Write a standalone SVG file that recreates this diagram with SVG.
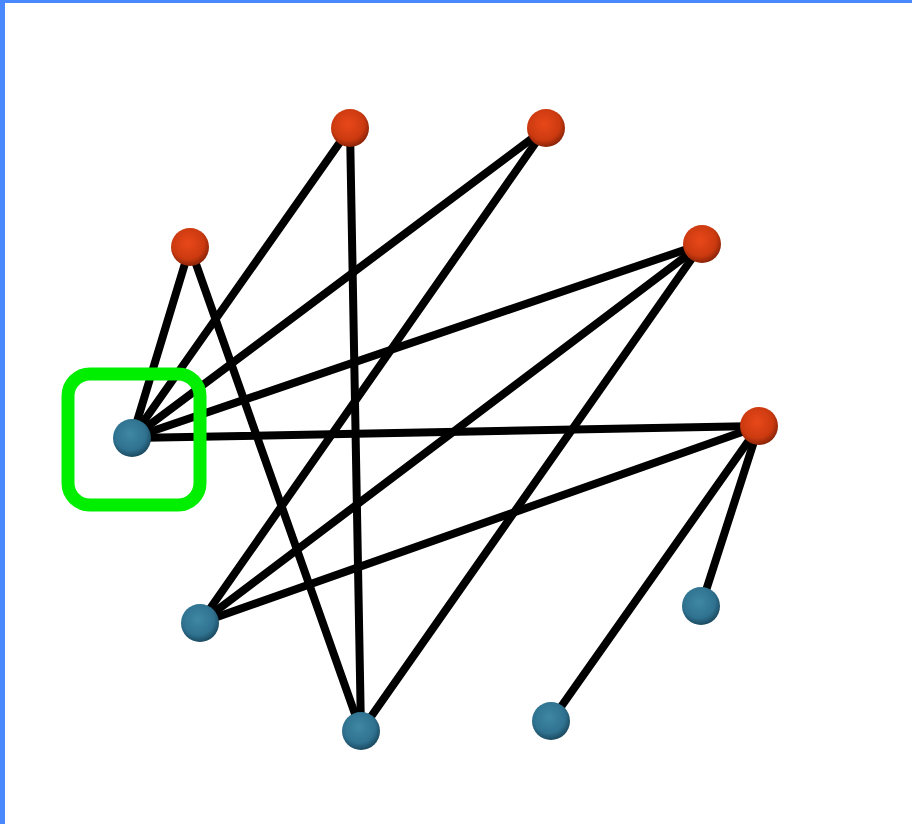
<svg xmlns="http://www.w3.org/2000/svg" width="912" height="824" viewBox="0 0 912 824">
<defs>
<radialGradient id="gr" cx="0.45" cy="0.4" r="0.6">
<stop offset="0" stop-color="#e8481a"/>
<stop offset="0.7" stop-color="#cc3a10"/>
<stop offset="1" stop-color="#8a2408"/>
</radialGradient>
<radialGradient id="gb" cx="0.45" cy="0.4" r="0.6">
<stop offset="0" stop-color="#3f88a4"/>
<stop offset="0.7" stop-color="#2f7290"/>
<stop offset="1" stop-color="#1b4a60"/>
</radialGradient>
<style>
.e{stroke:#000;stroke-width:8;stroke-linecap:round;fill:none}
.r{fill:url(#gr)}
.b{fill:url(#gb)}
</style>
</defs>
<rect x="0" y="0" width="912" height="824" fill="#fff"/>
<rect x="0" y="0" width="912" height="3" fill="#4a88ff"/>
<rect x="0" y="0" width="5" height="824" fill="#4a88ff"/>
<g id="edges">
<line class="e" x1="132" y1="438" x2="190" y2="247"/>
<line class="e" x1="132" y1="438" x2="350" y2="128"/>
<line class="e" x1="132" y1="438" x2="546" y2="128"/>
<line class="e" x1="132" y1="438" x2="702" y2="244"/>
<line class="e" x1="132" y1="438" x2="759" y2="426"/>
<line class="e" x1="190" y1="247" x2="361" y2="731"/>
<line class="e" x1="350" y1="128" x2="361" y2="731"/>
<line class="e" x1="546" y1="128" x2="200" y2="623"/>
<line class="e" x1="702" y1="244" x2="200" y2="623"/>
<line class="e" x1="702" y1="244" x2="361" y2="731"/>
<line class="e" x1="759" y1="426" x2="200" y2="623"/>
<line class="e" x1="759" y1="426" x2="701" y2="606"/>
<line class="e" x1="759" y1="426" x2="551" y2="721"/>
</g>
<g id="n1"><circle class="r" cx="350" cy="128" r="19"/></g>
<g id="n2"><circle class="r" cx="546" cy="128" r="19"/></g>
<g id="n3"><circle class="r" cx="190" cy="247" r="19"/></g>
<g id="n4"><circle class="r" cx="702" cy="244" r="19"/></g>
<g id="n5"><circle class="r" cx="759" cy="426" r="19"/></g>
<g id="n6"><circle class="b" cx="132" cy="438" r="19"/></g>
<g id="n7"><circle class="b" cx="200" cy="623" r="19"/></g>
<g id="n8"><circle class="b" cx="361" cy="731" r="19"/></g>
<g id="n9"><circle class="b" cx="551" cy="721" r="19"/></g>
<g id="n10"><circle class="b" cx="701" cy="606" r="19"/></g>
<g id="highlight"><rect x="68" y="374" width="132" height="131" rx="22" fill="none" stroke="#00ee00" stroke-width="13"/></g>
</svg>
